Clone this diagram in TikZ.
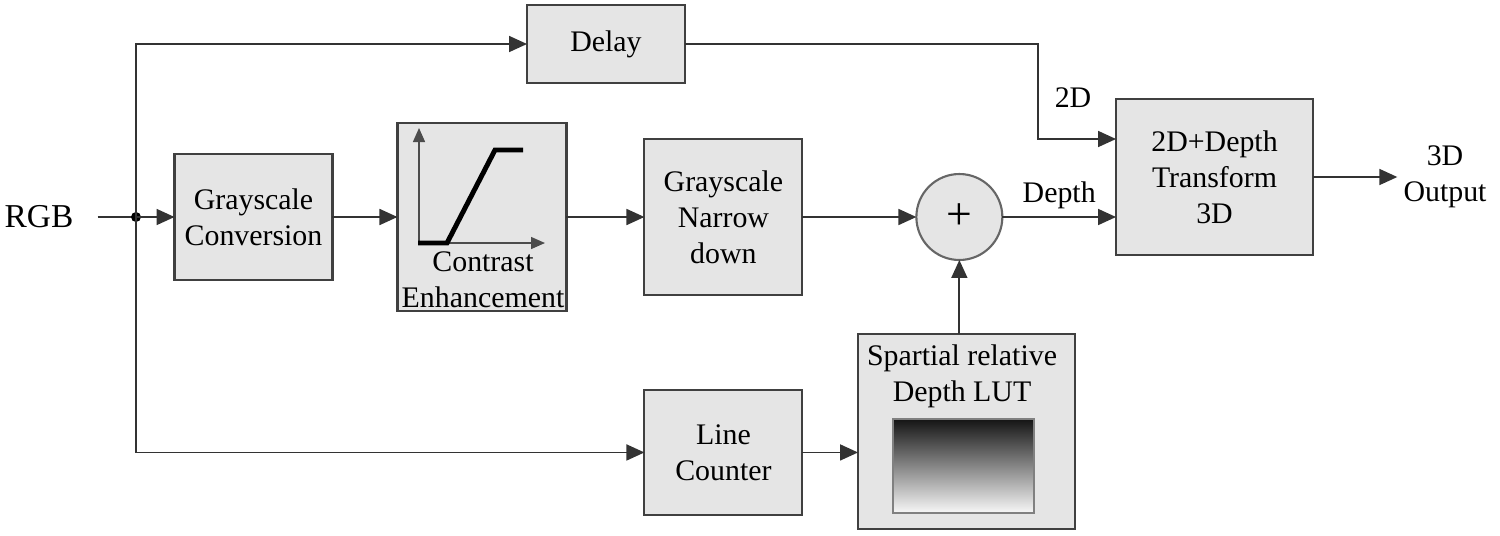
\documentclass[tikz,border=0pt]{standalone}
\usepackage{fontspec}
\setmainfont{Liberation Serif}
\usepackage{tikz}
\usetikzlibrary{arrows.meta,positioning,calc}

\begin{document}
\begin{tikzpicture}[
  x=0.02cm, y=-0.02cm,
  font=\fontsize{17}{20.5}\selectfont,
  node distance=1.3cm,
  box/.style={rectangle, draw=black!75, line width=1.2pt, fill=black!10, minimum width=3.16cm, align=center, inner sep=0pt, outer sep=0pt},
  line/.style={draw=black!80, line width=1pt},
  arrow/.style={line, -{Triangle[length=0.36cm, width=0.32cm]}},
  axis/.style={draw=black!70, line width=0.8pt, -{Triangle[length=0.28cm, width=0.24cm]}}
]
  \useasboundingbox (0,0) rectangle (1500,535);
  \node[font=\fontsize{19}{22}\selectfont, inner sep=0pt] (rgb) at (39,217) {RGB};
  \coordinate (junc) at (136,217);
  \node[box, minimum height=2.52cm] (gray) at (253.5,217) {Grayscale\\Conversion};
  \node[box, minimum width=3.38cm, minimum height=3.76cm, right=1.3cm of gray] (contrast) {};
  \node[box, minimum height=3.12cm, right=1.56cm of contrast] (narrow) {Grayscale\\Narrow\\down};
  \node[circle, draw=black!60, line width=1.2pt, fill=black!10, minimum size=1.72cm, inner sep=0pt, outer sep=0pt, right=2.28cm of narrow, font=\fontsize{26}{26}\selectfont] (sum) {+};
  \node[box, minimum width=3.94cm, minimum height=3.12cm] (out) at (1214.5,177) {2D+Depth\\Transform\\3D};
  \node[box, minimum height=1.56cm] (delay) at (606,44) {Delay};
  \node[box, minimum height=2.5cm, below=1.9cm of narrow] (counter) {Line\\Counter};
  \node[box, minimum width=4.34cm, minimum height=3.9cm] (lut) at (966.5,431.5) {};
  \node[align=center] (luttxt) at (962,376) {Spartial relative\\Depth LUT};
  \shade[top color=black!92, bottom color=black!3, draw=black!50, line width=0.6pt] (893,419) rectangle (1034,513);
  \draw[axis] (419,243) -- (419,128);
  \draw[axis] (419,243) -- (545,243);
  \draw[line width=2.8pt] (418,243) -- (447,243) -- (495,150) -- (523,150);
  \node[align=center] (contxt) at (483,280) {Contrast\\Enhancement};
  \node[align=center] (outtxt) at (1445,177) {3D\\Output};
  \node (lbl2d) at (1073,98) {2D};
  \coordinate (bend) at (1038,139);
  \draw[line] ([xshift=0.48cm]rgb.east) -- (junc);
  \fill[black] (junc) circle (0.1cm);
  \draw[arrow] (junc) -- (gray);
  \draw[arrow] (junc) |- (delay.west);
  \draw[arrow] (junc) |- (counter.west);
  \draw[arrow] (gray) -- (contrast);
  \draw[arrow] (contrast) -- (narrow);
  \draw[arrow] (narrow) -- (sum);
  \draw[arrow] (sum) -- (sum -| out.west) node[midway, above=1pt] {Depth};
  \draw[arrow] (delay.east) -| (bend) -- (bend -| out.west);
  \draw[arrow] (out) -- (outtxt.west);
  \draw[arrow] (counter) -- (counter -| lut.west);
  \draw[arrow] (sum.south |- lut.north) -- (sum.south);
\end{tikzpicture}
\end{document}
